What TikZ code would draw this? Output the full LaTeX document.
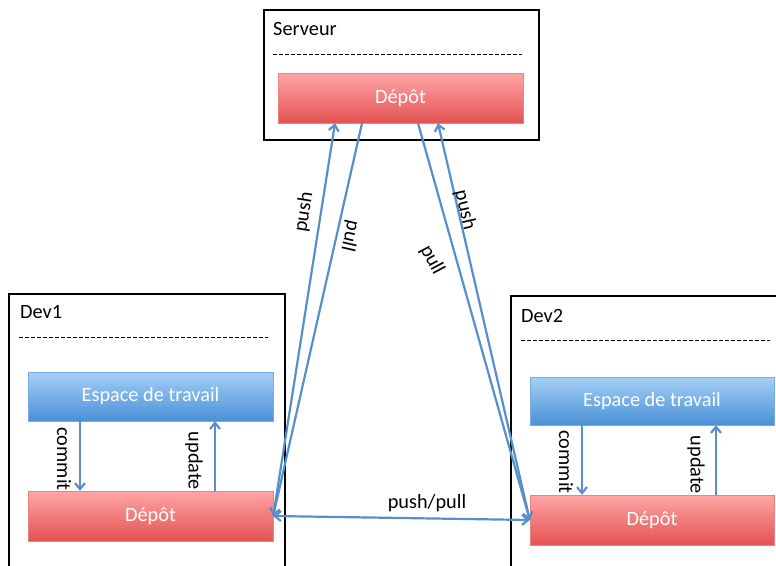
\documentclass[tikz,border=0pt]{standalone}
\usepackage{fontspec}
\setmainfont{Carlito}
\usepackage{tikz}
\usetikzlibrary{arrows.meta, calc, positioning}
\definecolor{linkblue}{RGB}{88,143,203}
\definecolor{redtop}{RGB}{255,166,166}
\definecolor{redbot}{RGB}{227,82,82}
\definecolor{redline}{RGB}{236,130,130}
\definecolor{bluetop}{RGB}{165,207,247}
\definecolor{bluebot}{RGB}{74,144,214}
\definecolor{blueline}{RGB}{120,172,224}

\begin{document}
\begin{tikzpicture}[x=1pt, y=1pt, >={Straight Barb[length=6pt,width=10pt]}, link/.style={draw=linkblue, line width=2.2pt}, every node/.style={font=\fontsize{20.3}{24}\selectfont}]
% Define styles for frames, repositories and workspaces
\tikzstyle{frame} = [draw=black, line width=1.8pt, rectangle, inner sep=0pt]
\tikzstyle{repo} = [draw=redline, top color=redtop, bottom color=redbot, rectangle, minimum width=245pt, minimum height=50pt, text=white, inner sep=0pt]
\tikzstyle{work} = [draw=blueline, top color=bluetop, bottom color=bluebot, rectangle, minimum width=245pt, minimum height=49pt, text=white, inner sep=0pt]
\tikzstyle{title} = [anchor=base west, inner sep=0pt]
\tikzstyle{sep} = [draw=black, line width=1pt, dash pattern=on 4pt off 2pt]
\tikzstyle{lbl} = [inner sep=1pt]

\useasboundingbox (0,0) rectangle (776,-565);
\clip (0,0) rectangle (776,-565);

% Frames
\node [frame, minimum width=275pt, minimum height=130pt] (server) at (401.5,-75) {};
\node [frame, minimum width=276pt, minimum height=306pt] (dev1) at (147,-447) {};
\node [frame, minimum width=289pt, minimum height=304pt] (dev2) at (655.5,-448) {};

\node [title] (servertitle) at (273,-35) {Serveur};
\node [title] (dev1title) at (20,-318) {Dev1};
\node [title] (dev2title) at (521,-322) {Dev2};

\draw [sep] (273,-54) -- (522,-54);
\draw [sep] (19,-337) -- (268,-337);
\draw [sep] (521,-340) -- (770,-340);

% Repositories and workspaces
\node [repo] (srvdepot) at (400.5,-98) {Dépôt};
\node [work] (ws1) at (150.5,-396.5) {Espace de travail};
\node [repo] (dep1) at (150.5,-516) {Dépôt};
\node [work, minimum width=244pt, minimum height=48pt] (ws2) at (652,-401) {Espace de travail};
\node [repo, minimum width=244pt] (dep2) at (652,-520) {Dépôt};

% Local arrows
\draw [link,->] ([xshift=-70.5pt]ws1.south) -- ([xshift=-70.5pt]dep1.north);
\draw [link,->] ([xshift=64.5pt]dep1.north) -- ([xshift=64.5pt]ws1.south);
\draw [link,->] ([xshift=-70pt]ws2.south) -- ([xshift=-70pt]dep2.north);
\draw [link,->] ([xshift=64pt]dep2.north) -- ([xshift=64pt]ws2.south);

% Server arrows
\draw [link,->] (dep1.east) -- ([xshift=-65.5pt]srvdepot.south);
\draw [link,->] ([xshift=-38.5pt]srvdepot.south) -- (dep1.east);
\draw [link,->] ([xshift=17.5pt]srvdepot.south) -- (dep2.west);
\draw [link,->] (dep2.west) -- ([xshift=37.5pt]srvdepot.south);
\draw [link,<->] (dep1.east) -- (dep2.west);

% Labels
\node [lbl, rotate=-90] (commit1) at (64,-459) {commit};
\node [lbl, rotate=-90] (update1) at (194,-461) {update};
\node [lbl, rotate=-90] (commit2) at (566,-462) {commit};
\node [lbl, rotate=-90] (update2) at (696,-465) {update};
\node [lbl, rotate=81] (push1) at (304,-212) {push};
\node [lbl, rotate=-103] (pull1) at (350,-236) {pull};
\node [lbl, rotate=-77] (push2) at (465,-210) {push};
\node [lbl, rotate=-62] (pull2) at (432,-260) {pull};
\node [lbl] (pushpull) at (427,-503) {push/pull};
\end{tikzpicture}
\end{document}
